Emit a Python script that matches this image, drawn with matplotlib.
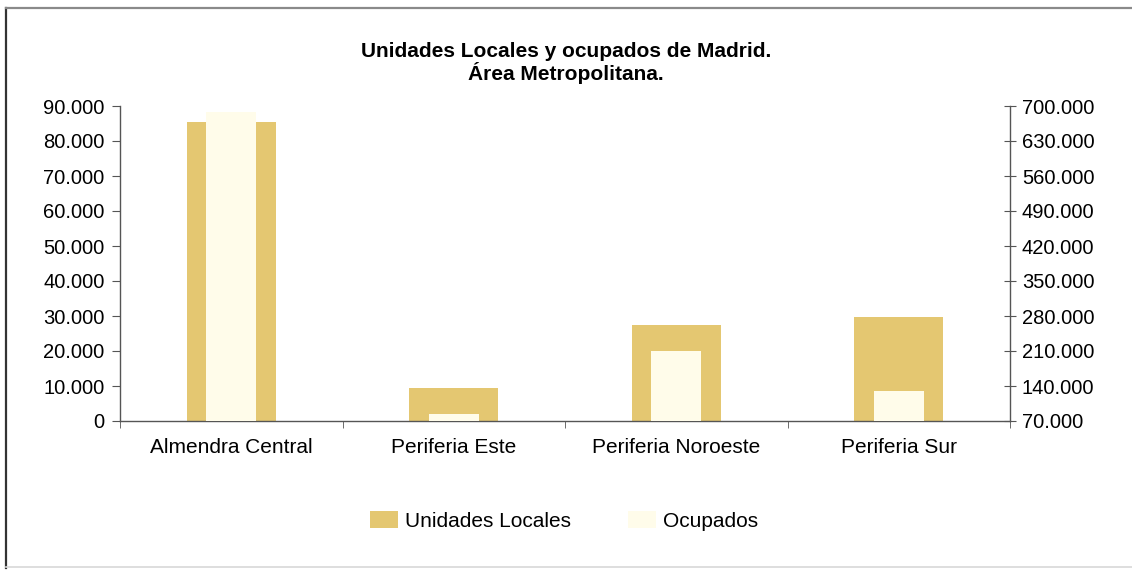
import matplotlib
matplotlib.use("Agg")
import matplotlib.pyplot as plt
from matplotlib.ticker import FuncFormatter, FixedLocator
from matplotlib.patches import Patch
from matplotlib.lines import Line2D
import numpy as np

plt.rcParams['font.family'] = ['Liberation Sans', 'DejaVu Sans']

categorias = ["Almendra Central", "Periferia Este", "Periferia Noroeste", "Periferia Sur"]
unidades_locales = [85500, 9300, 27500, 29600]
ocupados = [688000, 83500, 210000, 130000]
left_ticks = [0, 10000, 20000, 30000, 40000, 50000, 60000, 70000, 80000, 90000]
right_ticks = [70000, 140000, 210000, 280000, 350000, 420000, 490000, 560000, 630000, 700000]
titulo = "Unidades Locales y ocupados de Madrid.\nÁrea Metropolitana."
serie_nombres = ["Unidades Locales", "Ocupados"]

tan = "#E4C771"
cream = "#FFFCEA"
axis_col = "#555555"

def fmt(v, pos=None):
    return f"{int(round(v)):,}".replace(",", ".")

fig = plt.figure(figsize=(11.32, 5.70), dpi=100)
ax = fig.add_axes([120/1132, 1-421/570, 890/1132, 315/570])
ax2 = ax.twinx()

x = np.arange(len(categorias))
ax.bar(x, unidades_locales, width=0.40, color=tan, zorder=2)
ax2.bar(x, ocupados, width=0.225, color=cream, zorder=2)

ax.set_xlim(-0.5, len(categorias) - 0.5)
ax.set_ylim(0, 90000)
ax2.set_ylim(70000, 700000)
ax.set_yticks(left_ticks)
ax2.set_yticks(right_ticks)
ax.yaxis.set_major_formatter(FuncFormatter(fmt))
ax2.yaxis.set_major_formatter(FuncFormatter(fmt))

ax.set_xticks(x)
ax.set_xticklabels(categorias, fontsize=15)
ax.tick_params(axis='x', which='major', length=0, pad=12)
ax.xaxis.set_minor_locator(FixedLocator(np.arange(-0.5, len(categorias), 1.0)))
ax.tick_params(axis='x', which='minor', length=5, direction='out', color=axis_col)

ax.tick_params(axis='y', labelsize=14.5, length=6, direction='out', color=axis_col, pad=5)
ax2.tick_params(axis='y', labelsize=14.5, length=9, direction='inout', color=axis_col, pad=4)

for a in (ax, ax2):
    a.spines['top'].set_visible(False)
    for s in ('left', 'right', 'bottom'):
        a.spines[s].set_color(axis_col)
        a.spines[s].set_linewidth(1.0)
ax.spines['right'].set_visible(False)
ax2.spines['left'].set_visible(False)
ax2.spines['bottom'].set_visible(False)

fig.text(0.5, 1-63/570, titulo, ha='center', va='center', fontsize=15,
         fontweight='bold', linespacing=1.05)

handles = [Patch(facecolor=tan, edgecolor='none'), Patch(facecolor=cream, edgecolor='none')]
fig.legend(handles, serie_nombres, loc='center', bbox_to_anchor=(564/1132, 1-521/570),
           ncol=2, frameon=False, fontsize=15, handlelength=1.35, handleheight=0.85,
           handletextpad=0.35, columnspacing=2.7)

# outer frame of the chart area
fig.add_artist(Line2D([6/1132, 6/1132], [1-8/570, 1-568/570], transform=fig.transFigure,
                      color="#333333", lw=1.6))
fig.add_artist(Line2D([6/1132, 1.0], [1-8/570, 1-8/570], transform=fig.transFigure,
                      color="#8a8a8a", lw=1.6))
fig.add_artist(Line2D([6/1132, 1.0], [1-567/570, 1-567/570], transform=fig.transFigure,
                      color="#d8d8d8", lw=1.2))

fig.savefig("out.png", dpi=100, facecolor="white")
